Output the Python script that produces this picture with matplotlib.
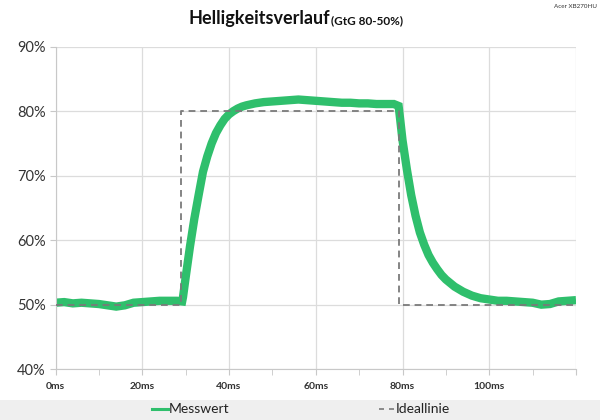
import matplotlib
matplotlib.use("Agg")
import matplotlib.pyplot as plt
from matplotlib.lines import Line2D
from matplotlib.patches import Rectangle
from matplotlib.ticker import MultipleLocator, FuncFormatter

plt.rcParams["font.family"] = ["Lato", "DejaVu Sans"]

mess_t = [0, 2, 4, 6, 8, 10, 12, 14, 16, 18, 20, 22, 24, 26, 28, 29.2,
          29.4, 30, 31, 32, 33, 34, 35, 36, 37, 38, 39, 40, 41, 42, 43, 44,
          46, 48, 50, 52, 54, 56, 58, 60, 62, 64, 66, 68, 70, 72, 74, 76, 78,
          79.1, 79.5, 80, 81, 82, 83, 84, 85, 86, 87, 88, 89, 90, 92, 94, 96,
          98, 100, 102, 104, 106, 108, 110, 112, 114, 116, 118, 120]
mess_v = [50.3, 50.4, 50.2, 50.3, 50.2, 50.1, 49.9, 49.7, 49.9, 50.3, 50.4,
          50.5, 50.6, 50.6, 50.6, 50.5,
          51.2, 54.2, 59.0, 63.3, 67.0, 70.6, 73.0, 75.0, 76.6, 77.8, 78.8,
          79.5, 80.0, 80.4, 80.7, 80.9,
          81.2, 81.4, 81.5, 81.6, 81.7, 81.8, 81.7, 81.6, 81.5, 81.4, 81.3,
          81.3, 81.2, 81.2, 81.1, 81.1, 81.1,
          80.8, 78.5, 75.5, 71.0, 67.0, 63.8, 61.2, 59.3, 57.7, 56.5, 55.5,
          54.6, 53.9, 52.8, 52.0, 51.4,
          51.0, 50.8, 50.6, 50.6, 50.5, 50.4, 50.3, 50.0, 50.1, 50.5, 50.6,
          50.7]

# ideal step response
ideal_t = [0, 29.0, 29.0, 79.1, 79.1, 120]
ideal_v = [50, 50, 80, 80, 50, 50]

GREEN = "#2fbf6c"
GRAY_DASH = "#7a7a7a"

fig = plt.figure(figsize=(6, 4.2), dpi=100)
ax = fig.add_axes([0.0925, 0.121, 0.8675, 0.768])

ax.plot(ideal_t, ideal_v, color=GRAY_DASH, lw=1.2, dashes=(4, 3), zorder=3)
ax.plot(mess_t, mess_v, color=GREEN, lw=6, solid_joinstyle="miter",
        solid_capstyle="butt", zorder=2)
ax.plot(ideal_t, ideal_v, color=GRAY_DASH, lw=1.2, dashes=(4, 3), alpha=0.45,
        zorder=4)

ax.set_xlim(0, 120)
ax.set_ylim(40, 90)
ax.xaxis.set_major_locator(MultipleLocator(20))
ax.xaxis.set_minor_locator(MultipleLocator(10))
ax.yaxis.set_major_locator(MultipleLocator(10))
ax.xaxis.set_major_formatter(FuncFormatter(lambda v, p: f"{v:.0f}ms" if v < 120 else ""))
ax.yaxis.set_major_formatter(FuncFormatter(lambda v, p: f"{v:.0f}%"))
ax.grid(True, which="major", color="#dcdcdc", lw=0.9)
ax.set_axisbelow(True)
for side in ("top", "right"):
    ax.spines[side].set_visible(False)
for side in ("left", "bottom"):
    ax.spines[side].set_color("#c8c8c8")
ax.tick_params(axis="y", labelsize=10.5, colors="#c8c8c8", labelcolor="#333333",
               length=4, pad=3)
ax.tick_params(axis="x", which="both", colors="#c8c8c8", length=4)
ax.tick_params(axis="x", labelsize=7.5, labelcolor="#333333", pad=5)
for lab in ax.get_xticklabels():
    lab.set_fontweight("bold")

fig.text(330 / 600, 0.957, "Helligkeitsverlauf", ha="right", va="center",
         fontsize=13, fontweight="bold", color="#111111")
fig.text(331 / 600, 0.951, "(GtG 80-50%)", ha="left", va="center",
         fontsize=8.5, fontweight="bold", color="#111111")
fig.text(0.995, 0.985, "Acer XB270HU", ha="right", va="center",
         fontsize=4.5, color="#333333")

# legend strip at the bottom
fig.patches.append(Rectangle((0, 0), 1, 20 / 420, transform=fig.transFigure,
                             facecolor="#efefef", edgecolor="none", zorder=0))
ly = 11 / 420
fig.lines.append(Line2D([152 / 600, 168 / 600], [ly, ly], color=GREEN, lw=2.2,
                        transform=fig.transFigure))
fig.text(169 / 600, ly, "Messwert", ha="left", va="center", fontsize=10,
         color="#222222")
fig.lines.append(Line2D([379 / 600, 394 / 600], [ly, ly], color=GRAY_DASH,
                        lw=1.2, dashes=(3, 3), transform=fig.transFigure))
fig.text(396 / 600, ly, "Ideallinie", ha="left", va="center", fontsize=10,
         color="#222222")

fig.savefig("out.png", dpi=100)
